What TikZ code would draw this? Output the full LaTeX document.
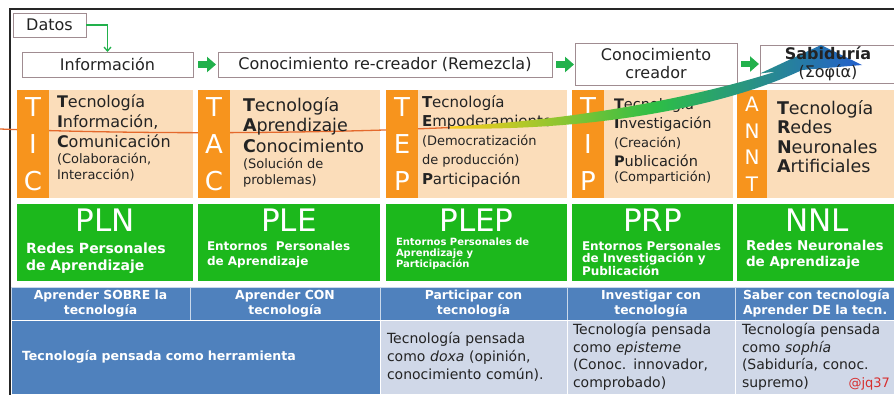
\documentclass[tikz,border=0pt]{standalone}
\usepackage{fontspec}
\setmainfont{DejaVu Sans}
\usepackage{xcolor}
\usepackage{tikz}
\usetikzlibrary{arrows.meta,positioning,calc}

\definecolor{peach}{RGB}{251,221,186}
\definecolor{stripcol}{RGB}{247,148,29}
\definecolor{panelgreen}{RGB}{28,184,28}
\definecolor{headblue}{RGB}{79,129,189}
\definecolor{paleblue}{RGB}{208,216,232}
\definecolor{boxline}{RGB}{160,140,145}
\definecolor{arrowgreen}{RGB}{34,177,76}
\definecolor{textdark}{RGB}{35,35,35}
\definecolor{wireorange}{RGB}{228,105,45}
\definecolor{swooshA}{RGB}{250,205,25}
\definecolor{swooshB}{RGB}{45,190,70}
\definecolor{swooshC}{RGB}{35,95,205}
\definecolor{signred}{RGB}{215,45,45}

\newcommand{\fsz}[2]{\fontsize{#1}{#2}\selectfont}

\begin{document}
\begin{tikzpicture}[x=1pt,y=-1pt,
  every node/.style={inner sep=0pt,outer sep=0pt,anchor=north west},
  stage/.style={draw=boxline,fill=white,font=\fsz{16}{18},align=center,text=textdark},
  flow/.style={arrowgreen,line width=6.5pt,-{Triangle[length=9pt,width=15pt]}},
  panel/.style={fill=peach,minimum height=108pt},
  strip/.style={fill=stripcol,minimum width=32pt,minimum height=108pt,text=white,font=\fsz{26}{37},align=center},
  coltext/.style={align=left,text=textdark,font=\fsz{16}{20}},
  greenbox/.style={fill=panelgreen,minimum height=77pt},
  bigtitle/.style={anchor=center,text=white,font=\fsz{31}{31}},
  subtitle/.style={align=left,text=white,font=\bfseries\fsz{14}{17}},
  headcell/.style={fill=headblue,draw=white!70!headblue,line width=1pt,minimum height=33pt,text=white,font=\bfseries\fsz{12.4}{15},align=center},
  notecell/.style={fill=paleblue,draw=white,line width=1pt,minimum height=74pt,align=left,text=textdark,font=\fsz{14}{17.7}}]

\useasboundingbox (0,0) rectangle (894,394);
\clip (0,0) rectangle (894,394);

% frame
\draw[line width=2pt,black!85] (10,396) -- (10,9) -- (896,9);

% stages
\node[stage,minimum width=73pt,minimum height=24pt] (datos) at (13,13) {Datos};
\node[stage,minimum width=171pt,minimum height=25pt] (info) at (22,52) {Información};
\node[stage,minimum width=334pt,minimum height=25pt] (remix) at (218,52) {Conocimiento re-creador (Remezcla)};
\node[stage,minimum width=162pt,minimum height=42pt] (creador) at (575,43) {Conocimiento\\creador};
\node[stage,minimum width=136pt,minimum height=38pt] (sabiduria) at (760,45) {};

\draw[arrowgreen,line width=1.3pt,-{Straight Barb[length=4pt,width=7pt]}] (datos.east) -| (info.north);
\draw[flow,shorten <=5pt,shorten >=2pt] (info.east) -- (remix.west);
\draw[flow,shorten <=4pt,shorten >=1pt] (remix.east) -- (creador.west |- remix.east);
\draw[flow,shorten <=4pt,shorten >=1pt] (creador.east) -- (creador.east -| sabiduria.west);

% orange row
\node[panel,minimum width=176pt] (ticpanel) at (17,90) {};
\node[panel,minimum width=182pt] (tacpanel) at (198,90) {};
\node[panel,minimum width=181pt] (teppanel) at (386,90) {};
\node[panel,minimum width=161pt] (tippanel) at (572,90) {};
\node[panel,minimum width=160pt] (anntpanel) at (737,90) {};

\draw[wireorange,line width=1.3pt] (0,129) .. controls (160,135) and (330,133) .. (450,127.5);

\node[strip] (tic) at (17,90) {T\\I\\C};
\node[strip] (tac) at (198,90) {T\\A\\C};
\node[strip] (tep) at (386,90) {T\\E\\P};
\node[strip] (tip) at (572,90) {T\\I\\P};
\node[strip,minimum width=30pt,font=\fsz{20}{26.5}] (annt) at (737,90) {A\\N\\N\\T};

\node[coltext] (tictext) at (57,95) {\textbf{T}ecnología\\
  \textbf{I}nformación,\\
  \textbf{C}omunicación\\[-4pt]
  {\fsz{13}{16}(Colaboración,}\\[-4pt]
  {\fsz{13}{16}Interacción)}};
\node[coltext,font=\fsz{17.5}{20.5}] (tactext) at (243,97) {\textbf{T}ecnología\\
  \textbf{A}prendizaje\\
  \textbf{C}onocimiento\\[-4pt]
  {\fsz{13}{16}(Solución de}\\[-4.5pt]
  {\fsz{13}{16}problemas)}};
\node[coltext,font=\fsz{15}{19.3}] (teptext) at (422,95) {\textbf{T}ecnología\\
  \textbf{E}mpoderamiento\\
  {\fsz{13}{16}(Democratización}\\
  {\fsz{13}{16}de producción)}\\
  \textbf{P}articipación};
\node[coltext,font=\fsz{14.5}{19}] (tiptext) at (614,98) {\textbf{T}ecnología\\
  \textbf{I}nvestigación\\
  {\fsz{13}{16}(Creación)}\\
  \textbf{P}ublicación\\[-4pt]
  {\fsz{13}{16}(Compartición)}};
\node[coltext,font=\fsz{17.5}{19.5}] (annttext) at (777,100) {\textbf{T}ecnología\\
  \textbf{R}edes\\
  \textbf{N}euronales\\
  \textbf{A}rtificiales};

% green row
\node[greenbox,minimum width=176pt] (pln) at (17,204) {};
\node[greenbox,minimum width=182pt] (ple) at (198,204) {};
\node[greenbox,minimum width=181pt] (plep) at (386,204) {};
\node[greenbox,minimum width=161pt] (prp) at (572,204) {};
\node[greenbox,minimum width=160pt] (nnl) at (737,204) {};

\node[bigtitle] (plntitle) at (pln.center |- 0,220) {PLN};
\node[bigtitle] (pletitle) at (ple.center |- 0,220) {PLE};
\node[bigtitle] (pleptitle) at (plep.center |- 0,220) {PLEP};
\node[bigtitle] (prptitle) at (prp.center |- 0,220) {PRP};
\node[bigtitle] (nnltitle) at (nnl.center |- 0,220) {NNL};

\node[subtitle] (plnsub) at (26,243) {Redes Personales\\de Aprendizaje};
\node[subtitle,font=\bfseries\fsz{12}{15}] (plesub) at (207,241) {Entornos~~Personales\\de Aprendizaje};
\node[subtitle,font=\bfseries\fsz{10}{11}] (plepsub) at (396,238) {Entornos Personales de\\Aprendizaje y\\Participación};
\node[subtitle,font=\bfseries\fsz{12}{12.5}] (prpsub) at (582,241) {Entornos Personales\\de Investigación y\\Publicación};
\node[subtitle,font=\bfseries\fsz{13.5}{16}] (nnlsub) at (746,240) {Redes Neuronales\\de Aprendizaje};

% blue row
\node[headcell,minimum width=179pt] (sobre) at (11,287) {Aprender SOBRE la\\tecnología};
\node[headcell,minimum width=190pt] (con) at (190,287) {Aprender CON\\tecnología};
\node[headcell,minimum width=187pt] (participar) at (380,287) {Participar con\\tecnología};
\node[headcell,minimum width=168pt] (investigar) at (567,287) {Investigar con\\tecnología};
\node[headcell,align=left,text width=155pt,inner xsep=8pt] (saber) at (735,287) {Saber con tecnología\\Aprender DE la tecn.};

\node[notecell,fill=headblue,text=white,font=\bfseries\fsz{12.6}{15},text width=347pt,inner xsep=11pt] (herramienta) at (11,320) {Tecnología pensada como herramienta};
\node[notecell,font=\fsz{14}{18},text width=173pt,inner xsep=7pt] (doxa) at (380,320) {Tecnología pensada\\como \emph{doxa} (opinión,\\conocimiento común).};
\node[notecell,text width=156pt,inner xsep=6pt] (episteme) at (567,320) {Tecnología pensada\\como \emph{episteme}\\(Conoc. innovador,\\comprobado)};
\node[notecell,text width=148pt,inner xsep=7pt] (sophia) at (735,320) {Tecnología pensada\\como \emph{sophía}\\(Sabiduría, conoc.\\supremo)\hfill{\color{signred}\fsz{13}{16}@jq37}};

% swoosh to wisdom
\shade[left color=swooshA,right color=swooshC,middle color=swooshB]
  (450,126.5) .. controls (580,120) and (700,96) .. (776,71.5)
  -- (760,73.5) -- (821,45) -- (862,65) -- (802,70)
  .. controls (722,108) and (590,131) .. (450,128.5) -- cycle;
\node[anchor=center,align=center,text=textdark,font=\fsz{16}{18}] (sabtext) at (sabiduria.center) {\textbf{Sabiduría}\\(Σοφία)};

\end{tikzpicture}
\end{document}
